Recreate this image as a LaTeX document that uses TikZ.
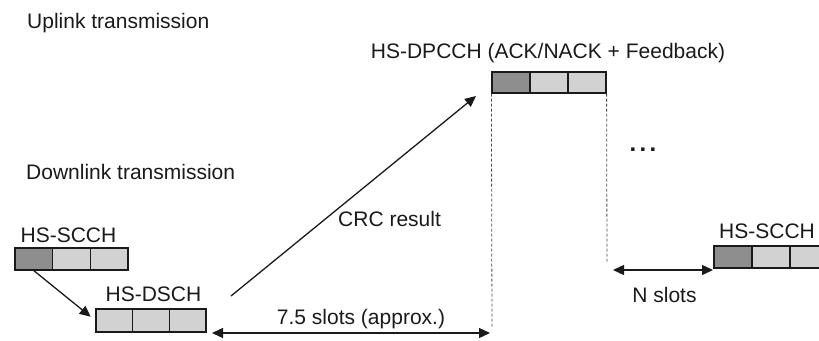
\documentclass[tikz,border=0pt]{standalone}
\usepackage{fontspec}
\setmainfont{Liberation Sans}
\usetikzlibrary{arrows.meta}
\definecolor{slotdark}{HTML}{8E8E8E}
\definecolor{slotlight}{HTML}{D2D2D2}
\definecolor{ink}{HTML}{1A1A1A}
\begin{document}
\begin{tikzpicture}[x=1pt,y=-1pt,
  lbl/.style={anchor=base, inner sep=0pt, font=\fontsize{21}{25}\selectfont, text=ink},
  seg/.style={draw=ink, line width=1.2pt, inner sep=0pt, minimum height=22pt, minimum width=38pt},
  darkseg/.style={seg, fill=slotdark},
  lightseg/.style={seg, fill=slotlight},
  arr/.style={draw=ink, line width=1.3pt, -{Triangle[length=11pt,width=10pt]}},
  dbl/.style={draw=ink, line width=1.3pt, {Triangle[length=11pt,width=10pt]}-{Triangle[length=11pt,width=10pt]}},
  guide/.style={draw=black!70, line width=0.8pt, dash pattern=on 3pt off 2pt},
]
\useasboundingbox (0,0) rectangle (819,340);

% section titles
\node[lbl, anchor=base west] (up) at (27,28) {Uplink transmission};
\node[lbl, anchor=base west] (down) at (26,179) {Downlink transmission};

% HS-SCCH (first)
\node[lbl] (scchL) at (68.5,242) {HS-SCCH};
\node[darkseg, minimum width=37.7pt] (sa1) at (33.8,259) {};
\node[lightseg, minimum width=37.7pt] (sa2) at (71.5,259) {};
\node[lightseg, minimum width=37.7pt] (sa3) at (109.2,259) {};

% HS-DSCH
\node[lbl] (dschL) at (153.5,301) {HS-DSCH};
\node[lightseg, minimum width=36.7pt, minimum height=23pt] (d1) at (114.3,320.5) {};
\node[lightseg, minimum width=36.7pt, minimum height=23pt] (d2) at (151,320.5) {};
\node[lightseg, minimum width=36.7pt, minimum height=23pt] (d3) at (187.7,320.5) {};

% HS-DPCCH
\node[lbl] (dpL) at (548,58) {HS-DPCCH (ACK/NACK + Feedback)};
\node[darkseg, minimum height=21pt] (p1) at (511,82.5) {};
\node[lightseg, minimum height=21pt] (p2) at (549,82.5) {};
\node[lightseg, minimum height=21pt] (p3) at (587,82.5) {};

% HS-SCCH (next)
\node[lbl] (scchR) at (767,238) {HS-SCCH};
\node[darkseg] (sb1) at (733,257) {};
\node[lightseg] (sb2) at (771,257) {};
\node[lightseg] (sb3) at (809,257) {};

% free ends of the connectors
\coordinate (crcS) at (231,296);
\coordinate (crcE) at (476,96);
\coordinate (gapL) at (212,333);
\coordinate (gapR) at (490,333);
\coordinate (dashL) at (492,327);
\coordinate (dashR) at (607,263);
\coordinate (nL) at (613,270);
\coordinate (nR) at (713,270);

% connectors
\draw[arr, shorten >=6pt] (sa1.south) -- (d1.west);
\draw[arr] (crcS) -- (crcE);
\node[lbl, anchor=base west] (crcL) at (338,226) {CRC result};
\draw[guide] (p1.south west) -- (dashL);
\draw[guide] (p3.south east) -- (dashR);
\draw[dbl] (gapL) -- (gapR);
\node[lbl] (gapT) at (361,324) {7.5 slots (approx.)};
\draw[dbl] (nL) -- (nR);
\node[lbl] (nT) at (664.5,302) {N slots};

% continuation dots
\node[lbl, font=\fontsize{24}{26}\bfseries] (dots) at (643,151) {.\hspace{3.3pt}.\hspace{3.3pt}.};
\end{tikzpicture}
\end{document}
